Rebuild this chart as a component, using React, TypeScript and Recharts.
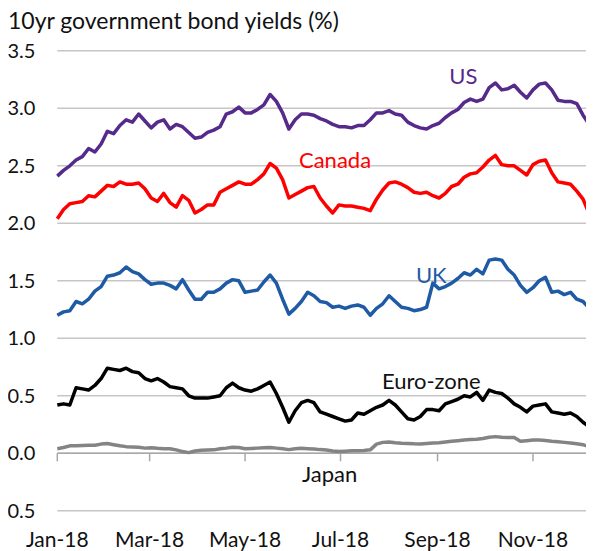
import React from 'react';
import { LineChart, Line, XAxis, YAxis, CartesianGrid, ReferenceLine, ReferenceDot } from 'recharts';

// day of year 2018 (0 = 1 Jan)
const days = [
  0, 4, 8, 12, 16, 20, 24, 28, 32, 36, 40, 44, 48, 52, 56, 60, 64, 68, 72, 76,
  80, 84, 88, 92, 96, 100, 104, 108, 112, 116, 120, 124, 128, 132, 136, 140, 144, 148, 152, 156,
  160, 164, 168, 172, 176, 180, 184, 188, 192, 196, 200, 204, 208, 212, 216, 220, 224, 228, 232, 236,
  240, 244, 248, 252, 256, 260, 264, 268, 272, 276, 280, 284, 288, 292, 296, 300, 304, 308, 312, 316,
  320, 324, 328, 332, 336, 340, 342,
];

const us = [
  2.41, 2.46, 2.50, 2.55, 2.58, 2.65, 2.62, 2.69, 2.80, 2.78,
  2.85, 2.90, 2.88, 2.95, 2.89, 2.83, 2.88, 2.90, 2.82, 2.86,
  2.84, 2.79, 2.74, 2.75, 2.79, 2.81, 2.84, 2.95, 2.97, 3.01,
  2.96, 2.96, 2.99, 3.03, 3.12, 3.06, 2.96, 2.82, 2.90, 2.95,
  2.95, 2.94, 2.91, 2.89, 2.86, 2.84, 2.84, 2.83, 2.85, 2.85,
  2.90, 2.96, 2.96, 2.98, 2.95, 2.94, 2.88, 2.85, 2.83, 2.82,
  2.85, 2.87, 2.92, 2.96, 2.99, 3.05, 3.08, 3.06, 3.08, 3.18,
  3.22, 3.16, 3.17, 3.20, 3.14, 3.09, 3.16, 3.21, 3.22, 3.16,
  3.07, 3.06, 3.06, 3.04, 2.94, 2.86, 2.84,
];

const canada = [
  2.04, 2.12, 2.17, 2.18, 2.19, 2.24, 2.23, 2.28, 2.33, 2.32,
  2.36, 2.34, 2.34, 2.35, 2.30, 2.22, 2.19, 2.26, 2.18, 2.14,
  2.24, 2.20, 2.09, 2.12, 2.16, 2.16, 2.27, 2.30, 2.33, 2.36,
  2.34, 2.34, 2.38, 2.43, 2.52, 2.48, 2.38, 2.22, 2.25, 2.28,
  2.31, 2.32, 2.22, 2.15, 2.09, 2.16, 2.15, 2.15, 2.14, 2.13,
  2.11, 2.21, 2.29, 2.35, 2.36, 2.34, 2.31, 2.27, 2.26, 2.27,
  2.24, 2.22, 2.26, 2.32, 2.34, 2.40, 2.43, 2.44, 2.49, 2.55,
  2.59, 2.51, 2.50, 2.50, 2.46, 2.42, 2.51, 2.54, 2.55, 2.44,
  2.36, 2.35, 2.34, 2.28, 2.21, 2.08, 2.07,
];

const uk = [
  1.20, 1.23, 1.24, 1.32, 1.30, 1.34, 1.41, 1.45, 1.54, 1.55,
  1.57, 1.62, 1.58, 1.56, 1.51, 1.47, 1.48, 1.48, 1.46, 1.43,
  1.51, 1.42, 1.34, 1.34, 1.40, 1.40, 1.43, 1.48, 1.51, 1.50,
  1.40, 1.41, 1.42, 1.49, 1.55, 1.48, 1.34, 1.21, 1.26, 1.32,
  1.40, 1.37, 1.32, 1.31, 1.27, 1.28, 1.26, 1.28, 1.29, 1.27,
  1.20, 1.26, 1.30, 1.37, 1.32, 1.27, 1.26, 1.24, 1.25, 1.27,
  1.48, 1.43, 1.45, 1.48, 1.52, 1.57, 1.55, 1.60, 1.56, 1.68,
  1.69, 1.68, 1.60, 1.55, 1.46, 1.40, 1.44, 1.50, 1.53, 1.40,
  1.41, 1.38, 1.40, 1.34, 1.32, 1.26, 1.26,
];

const euro = [
  0.42, 0.43, 0.42, 0.57, 0.56, 0.55, 0.59, 0.65, 0.74, 0.73,
  0.72, 0.74, 0.71, 0.70, 0.65, 0.63, 0.65, 0.62, 0.58, 0.57,
  0.56, 0.50, 0.48, 0.48, 0.48, 0.49, 0.50, 0.57, 0.61, 0.57,
  0.55, 0.54, 0.56, 0.59, 0.62, 0.52, 0.40, 0.27, 0.37, 0.44,
  0.46, 0.44, 0.36, 0.34, 0.32, 0.30, 0.28, 0.29, 0.35, 0.34,
  0.37, 0.40, 0.42, 0.46, 0.42, 0.36, 0.30, 0.29, 0.32, 0.38,
  0.38, 0.37, 0.43, 0.45, 0.47, 0.50, 0.49, 0.53, 0.46, 0.55,
  0.53, 0.52, 0.48, 0.43, 0.40, 0.36, 0.41, 0.42, 0.43, 0.36,
  0.35, 0.34, 0.35, 0.32, 0.27, 0.23, 0.24,
];

const japan = [
  0.04, 0.05, 0.065, 0.066, 0.068, 0.07, 0.07, 0.08, 0.085, 0.075,
  0.065, 0.058, 0.055, 0.052, 0.045, 0.048, 0.043, 0.04, 0.04, 0.03,
  0.015, 0.006, 0.02, 0.026, 0.028, 0.03, 0.04, 0.045, 0.052, 0.05,
  0.04, 0.042, 0.045, 0.048, 0.05, 0.045, 0.04, 0.032, 0.04, 0.043,
  0.04, 0.038, 0.032, 0.028, 0.02, 0.015, 0.018, 0.022, 0.022, 0.025,
  0.03, 0.08, 0.095, 0.098, 0.092, 0.088, 0.086, 0.082, 0.08, 0.085,
  0.09, 0.092, 0.098, 0.105, 0.11, 0.115, 0.12, 0.122, 0.128, 0.14,
  0.145, 0.14, 0.138, 0.138, 0.105, 0.11, 0.116, 0.115, 0.112, 0.105,
  0.10, 0.095, 0.09, 0.083, 0.075, 0.055, 0.04,
];

const monthTicks = [0, 59, 120, 181, 243, 304];
const monthLabels = ['Jan-18', 'Mar-18', 'May-18', 'Jul-18', 'Sep-18', 'Nov-18'];
const yTicks = [-0.5, 0, 0.5, 1, 1.5, 2, 2.5, 3, 3.5];

const series = [
  { key: 'us', name: 'US', color: '#552a8b', labelDay: 259.5, labelValue: 3.28 },
  { key: 'canada', name: 'Canada', color: '#ff0000', labelDay: 177.5, labelValue: 2.55 },
  { key: 'uk', name: 'UK', color: '#1f5aa5', labelDay: 239, labelValue: 1.55 },
  { key: 'euro', name: 'Euro-zone', color: '#000000', labelDay: 239, labelValue: 0.63, labelColor: '#111' },
  { key: 'japan', name: 'Japan', color: '#848484', labelDay: 174, labelValue: -0.18, labelColor: '#111' },
];

const data = days.map((day, i) => ({
  day,
  us: us[i],
  canada: canada[i],
  uk: uk[i],
  euro: euro[i],
  japan: japan[i],
}));

const FONT = 'Lato, "Noto Sans", sans-serif';

export default function App() {
  // shifted left by the body margin so the "-0.5" tick can sit near the page edge
  return (
    <div style={{ position: 'relative', width: 594, height: 543, marginLeft: -8, fontFamily: FONT }}>
      <svg width={594} height={48} style={{ position: 'absolute', left: 0, top: -8 }}>
        <text x={8} y={29} fontSize={23} fill="#111" fontFamily={FONT}>
          10yr government bond yields (%)
        </text>
      </svg>
      <LineChart
        width={594}
        height={543}
        data={data}
        margin={{ top: 42.8, right: 0, bottom: 10.2, left: 0 }}
      >
        <CartesianGrid horizontal vertical={false} stroke="#c6c6c6" strokeWidth={1.5} />
        <XAxis
          dataKey="day"
          type="number"
          domain={[0, 343]}
          ticks={monthTicks}
          tickFormatter={(v) => monthLabels[monthTicks.indexOf(v)]}
          axisLine={false}
          tickLine={false}
          tickSize={0}
          tickMargin={21}
          height={30}
          interval={0}
          tick={{ fontSize: 21, fill: '#111', fontFamily: FONT }}
        />
        <YAxis
          type="number"
          domain={[-0.5, 3.5]}
          ticks={yTicks}
          tickFormatter={(v) => v.toFixed(1)}
          axisLine={false}
          tickLine={false}
          tickSize={0}
          tickMargin={22}
          width={57.3}
          interval={0}
          tick={{ fontSize: 20, fill: '#111', fontFamily: FONT }}
        />
        <ReferenceLine y={0} stroke="#a8a8a8" strokeWidth={1.5} />
        {monthTicks.map((d) => (
          <ReferenceLine
            key={d}
            segment={[{ x: d, y: 0 }, { x: d, y: -0.07 }]}
            stroke="#a8a8a8"
            strokeWidth={1.5}
          />
        ))}
        {series.map((s) => (
          <Line
            key={s.key}
            type="linear"
            dataKey={s.key}
            stroke={s.color}
            strokeWidth={3.5}
            strokeLinejoin="round"
            dot={false}
            isAnimationActive={false}
          />
        ))}
        {series.map((s) => (
          <ReferenceDot
            key={s.key + '-label'}
            x={s.labelDay}
            y={s.labelValue}
            r={0}
            fill="none"
            stroke="none"
            label={{
              value: s.name,
              position: 'center',
              fill: s.labelColor || s.color,
              fontSize: 22,
              fontFamily: FONT,
            }}
          />
        ))}
      </LineChart>
    </div>
  );
}
